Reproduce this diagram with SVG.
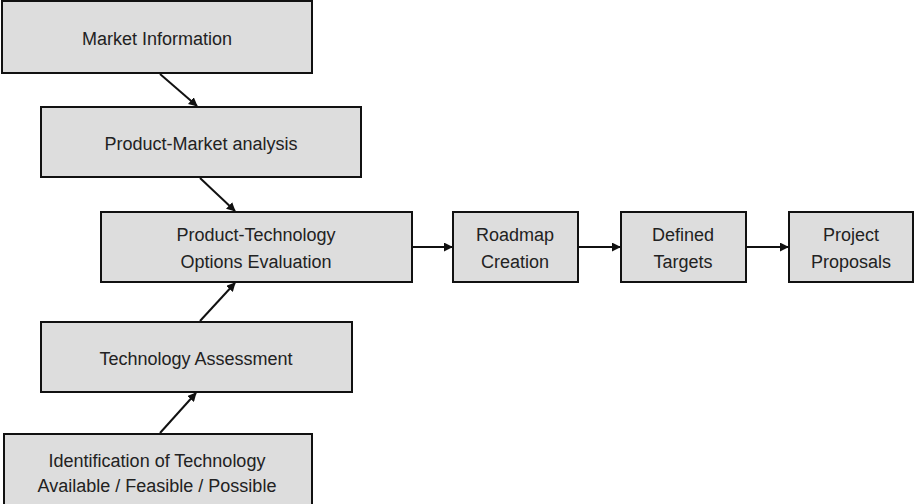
<svg xmlns="http://www.w3.org/2000/svg" width="914" height="504" viewBox="0 0 914 504">
  <style>
    .box { fill: #dddddd; stroke: #111111; stroke-width: 2; }
    .lbl { font-family: "Liberation Sans", Arial, sans-serif; font-size: 18px; fill: #222222; text-anchor: middle; }
    .conn { stroke: #111111; stroke-width: 2; fill: none; marker-end: url(#head); }
  </style>
  <defs>
    <marker id="head" viewBox="0 0 10 10" refX="9" refY="5" markerWidth="4.5" markerHeight="4.5" orient="auto" markerUnits="strokeWidth">
      <path d="M0,0 L10,5 L0,10 z" fill="#111111"/>
    </marker>
  </defs>
  <rect width="914" height="504" fill="#ffffff"/>

  <g id="market-information">
    <rect class="box" x="2" y="1" width="310" height="72"/>
    <text class="lbl" x="157" y="45">Market Information</text>
  </g>
  <g id="product-market-analysis">
    <rect class="box" x="41" y="107" width="320" height="70"/>
    <text class="lbl" x="201" y="150">Product-Market analysis</text>
  </g>
  <g id="product-technology-options">
    <rect class="box" x="101" y="212" width="311" height="70"/>
    <text class="lbl" x="256" y="241">Product-Technology</text>
    <text class="lbl" x="256" y="268">Options Evaluation</text>
  </g>
  <g id="roadmap-creation">
    <rect class="box" x="453" y="212" width="125" height="70"/>
    <text class="lbl" x="515" y="241">Roadmap</text>
    <text class="lbl" x="515" y="268">Creation</text>
  </g>
  <g id="defined-targets">
    <rect class="box" x="621" y="212" width="125" height="70"/>
    <text class="lbl" x="683" y="241">Defined</text>
    <text class="lbl" x="683" y="268">Targets</text>
  </g>
  <g id="project-proposals">
    <rect class="box" x="789" y="212" width="124" height="70"/>
    <text class="lbl" x="851" y="241">Project</text>
    <text class="lbl" x="851" y="268">Proposals</text>
  </g>
  <g id="technology-assessment">
    <rect class="box" x="41" y="322" width="311" height="70"/>
    <text class="lbl" x="196" y="365">Technology Assessment</text>
  </g>
  <g id="technology-identification">
    <rect class="box" x="4" y="434" width="308" height="74"/>
    <text class="lbl" x="157" y="467">Identification of Technology</text>
    <text class="lbl" x="157" y="492">Available / Feasible / Possible</text>
  </g>

  <g id="connectors">
    <line class="conn" x1="160" y1="74" x2="197" y2="106"/>
    <line class="conn" x1="200" y1="178" x2="235" y2="211"/>
    <line class="conn" x1="200" y1="321" x2="235" y2="283"/>
    <line class="conn" x1="160" y1="433" x2="196" y2="393"/>
    <line class="conn" x1="413" y1="247" x2="452" y2="247"/>
    <line class="conn" x1="579" y1="247" x2="620" y2="247"/>
    <line class="conn" x1="747" y1="247" x2="788" y2="247"/>
  </g>
</svg>
